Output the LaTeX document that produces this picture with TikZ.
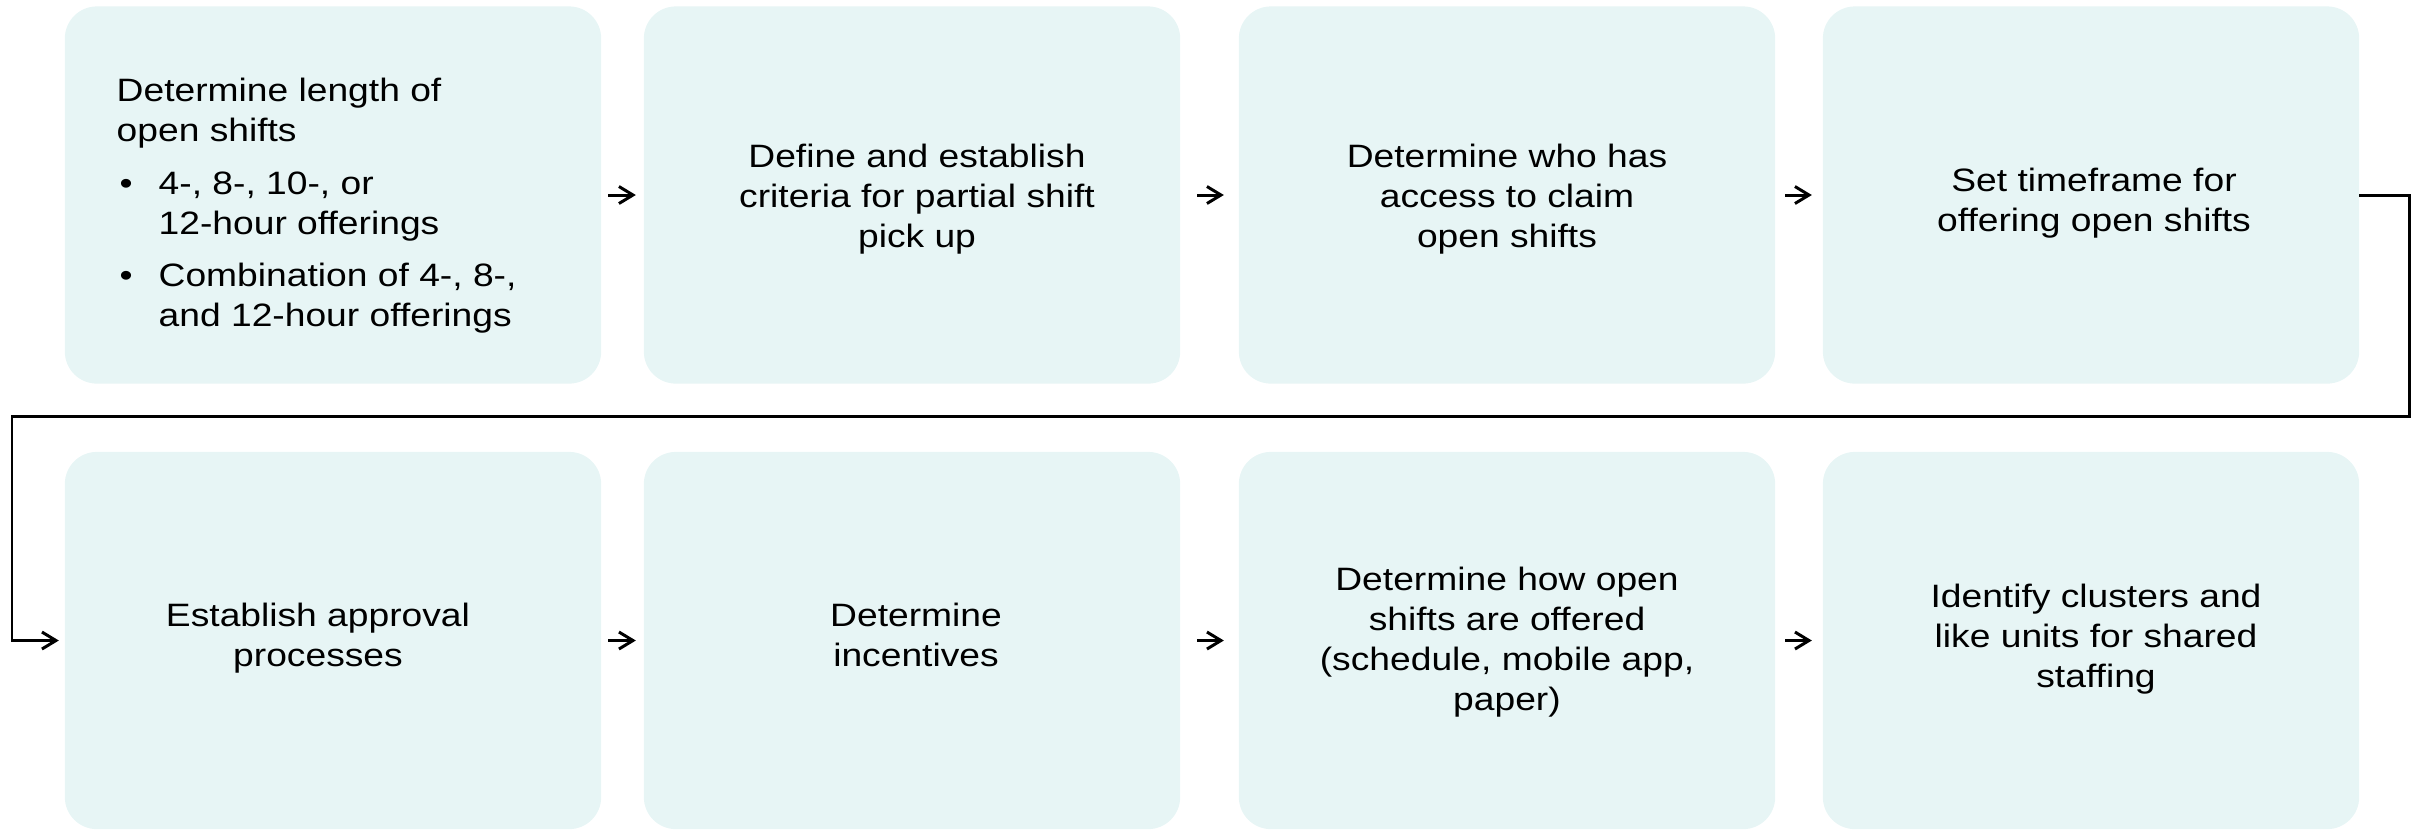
\documentclass[tikz,border=0pt]{standalone}
\usepackage{fontspec}
\setmainfont{Liberation Sans}[FakeStretch=1.15]
\usetikzlibrary{arrows.meta}
\definecolor{boxfill}{RGB}{231,245,245}
\def\bulletline#1{\makebox[0.42cm][l]{\hspace{0.03cm}\textbullet}#1}
\def\hangline#1{\hspace*{0.42cm}#1}

\begin{document}
\begin{tikzpicture}[x=0.01cm, y=-0.01cm,
		stepbox/.style={fill=boxfill, rounded corners=0.32cm, minimum width=5.36cm, minimum height=3.77cm, inner sep=0pt, outer sep=0pt},
		steptext/.style={inner sep=0pt, align=center, font=\fontsize{9.2}{11.4}\selectfont},
		flow/.style={line width=0.85pt, -{Straight Barb[length=1.4mm, width=1.7mm]}}]
		%%%%% START %%%%%
		\useasboundingbox (0,0) rectangle (2428,829);
		
		\node[stepbox] (b1) at (333,195) {};
		\node[stepbox] (b2) at (912,195) {};
		\node[stepbox] (b3) at (1507,195) {};
		\node[stepbox] (b4) at (2091,195) {};
		
		\node[stepbox] (b5) at (333,640.5) {};
		\node[stepbox] (b6) at (912,640.5) {};
		\node[stepbox] (b7) at (1507,640.5) {};
		\node[stepbox] (b8) at (2091,640.5) {};
		
		% texts
		\node[steptext, align=left, anchor=west] (t1) at (116,206) {Determine length of\\open shifts\\[3.5pt]
			\bulletline{4-, 8-, 10-, or}\\
			\hangline{12-hour offerings}\\[3.5pt]
			\bulletline{Combination of 4-, 8-,}\\
			\hangline{and 12-hour offerings}};
		\node[steptext] (t2) at (917,199) {Define and establish\\criteria for partial shift\\pick up};
		\node[steptext] (t3) at (1507,199) {Determine who has\\access to claim\\open shifts};
		\node[steptext] (t4) at (2094,203) {Set timeframe for\\offering open shifts};
		\node[steptext] (t5) at (318,638) {Establish approval\\processes};
		\node[steptext] (t6) at (916,635) {Determine\\incentives};
		\node[steptext] (t7) at (1507,642) {Determine how open\\shifts are offered\\(schedule, mobile app,\\paper)};
		\node[steptext] (t8) at (2096,639) {Identify clusters and\\like units for shared\\staffing};
		
		% arrows
		\draw[flow, shorten <=0.7mm, shorten >=0.8mm] (b1.east) -- (b2.west);
		\draw[flow, shorten <=1.7mm, shorten >=1.5mm] (b2.east) -- (b3.west);
		\draw[flow, shorten <=1.0mm, shorten >=1.1mm] (b3.east) -- (b4.west);
		
		\coordinate (rturn) at (2409,416);
		\coordinate (lturn) at (12,416);
		\draw[flow, shorten >=0.6mm] (b4.east) -| (rturn) -- (lturn) |- (b5.west);
		
		\draw[flow, shorten <=0.7mm, shorten >=0.8mm] (b5.east) -- (b6.west);
		\draw[flow, shorten <=1.7mm, shorten >=1.5mm] (b6.east) -- (b7.west);
		\draw[flow, shorten <=1.0mm, shorten >=1.1mm] (b7.east) -- (b8.west);
		%%%%% END %%%%%
\end{tikzpicture}
\end{document}
